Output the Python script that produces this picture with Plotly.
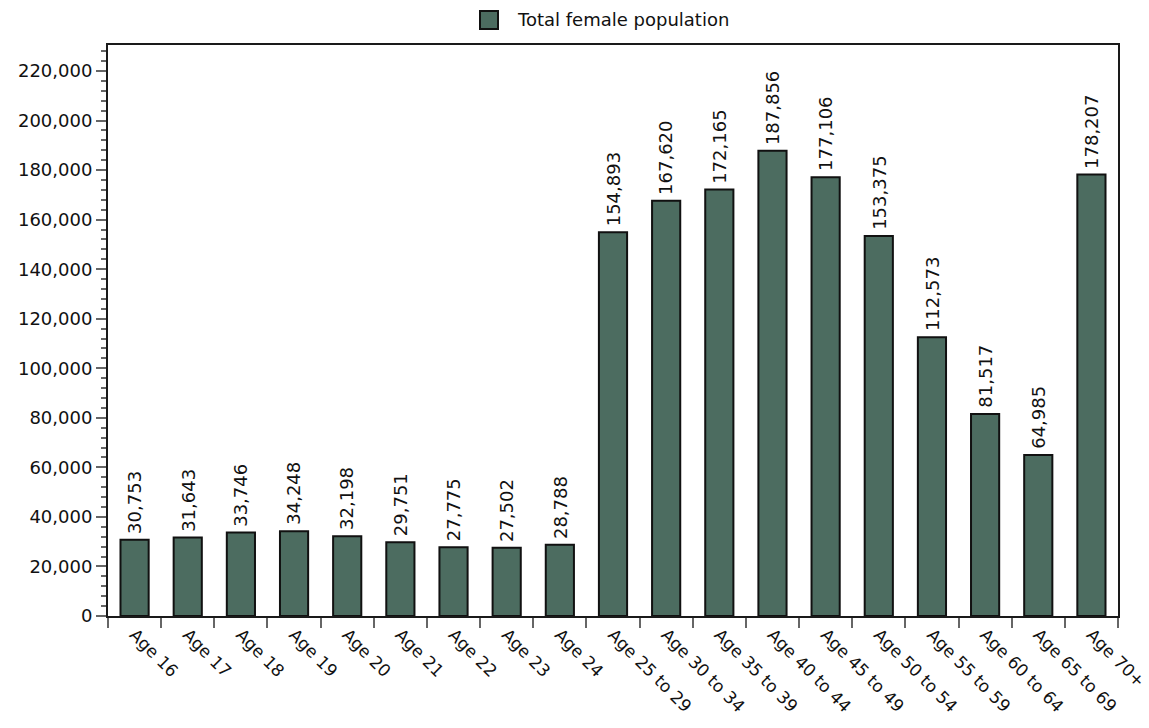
import plotly.graph_objects as go

# Female population by age band
categories = [
    "Age 16", "Age 17", "Age 18", "Age 19", "Age 20", "Age 21", "Age 22",
    "Age 23", "Age 24", "Age 25 to 29", "Age 30 to 34", "Age 35 to 39",
    "Age 40 to 44", "Age 45 to 49", "Age 50 to 54", "Age 55 to 59",
    "Age 60 to 64", "Age 65 to 69", "Age 70+",
]
female_population = [
    30753, 31643, 33746, 34248, 32198, 29751, 27775, 27502, 28788,
    154893, 167620, 172165, 187856, 177106, 153375, 112573, 81517, 64985,
    178207,
]
series_name = "Total female population"
y_tick_values = list(range(0, 220001, 20000))

FONT = "DejaVu Sans"
FONT_SIZE = 18
BAR_COLOR = "#4c6c60"
TEXT_COLOR = "#111111"

fig = go.Figure()
fig.add_trace(go.Bar(
    x=categories,
    y=female_population,
    name=series_name,
    marker=dict(color=BAR_COLOR, line=dict(color="#111111", width=2)),
    showlegend=False,
))

# Value labels, rotated, just above each bar
for cat, val in zip(categories, female_population):
    fig.add_annotation(
        x=cat, y=val, xref="x", yref="y",
        text=f"{val:,}", textangle=-90,
        xanchor="center", yanchor="bottom", yshift=4,
        showarrow=False,
        font=dict(family=FONT, size=FONT_SIZE, color=TEXT_COLOR),
    )

# Plot area in pixels: x 108..1118, y 45..616
L, R, T, B = 108, 1118, 45, 616
W, H = R - L, B - T


def px_x(p):
    return (p - L) / W


def px_y(p):
    return (B - p) / H


# Legend drawn as a swatch and a label above the plot
fig.add_shape(
    type="rect", xref="paper", yref="paper",
    x0=px_x(480), x1=px_x(498), y0=px_y(29), y1=px_y(11),
    fillcolor=BAR_COLOR, line=dict(color="#111111", width=2),
)
fig.add_annotation(
    xref="paper", yref="paper", x=px_x(515), y=px_y(20),
    xanchor="left", yanchor="middle", showarrow=False,
    text=series_name, font=dict(family=FONT, size=FONT_SIZE, color=TEXT_COLOR),
)

fig.update_layout(
    width=1149, height=728,
    margin=dict(l=L, r=1149 - R, t=T, b=728 - B, autoexpand=False),
    paper_bgcolor="white", plot_bgcolor="white",
    bargap=0.47,
    font=dict(family=FONT, size=FONT_SIZE, color=TEXT_COLOR),
)

fig.update_xaxes(
    type="category",
    automargin=False,
    tickson="boundaries",
    ticks="outside", ticklen=10, tickwidth=1.5, tickcolor="#666666",
    tickangle=45,
    showline=True, linecolor="#1a1a1a", linewidth=2, mirror=True,
    showgrid=False, zeroline=False,
    tickfont=dict(family=FONT, size=17, color=TEXT_COLOR),
)
fig.update_yaxes(
    automargin=False,
    range=[0, 230500],
    tickvals=y_tick_values,
    tickformat=",d",
    ticks="outside", ticklen=10, tickwidth=1.5, tickcolor="#666666",
    minor=dict(dtick=4000, ticks="outside", ticklen=5, tickwidth=1.5,
               tickcolor="#666666", showgrid=False),
    showline=True, linecolor="#1a1a1a", linewidth=2, mirror=True,
    showgrid=False, zeroline=False,
    tickfont=dict(family=FONT, size=FONT_SIZE, color=TEXT_COLOR),
)

fig.write_html("out.html")
